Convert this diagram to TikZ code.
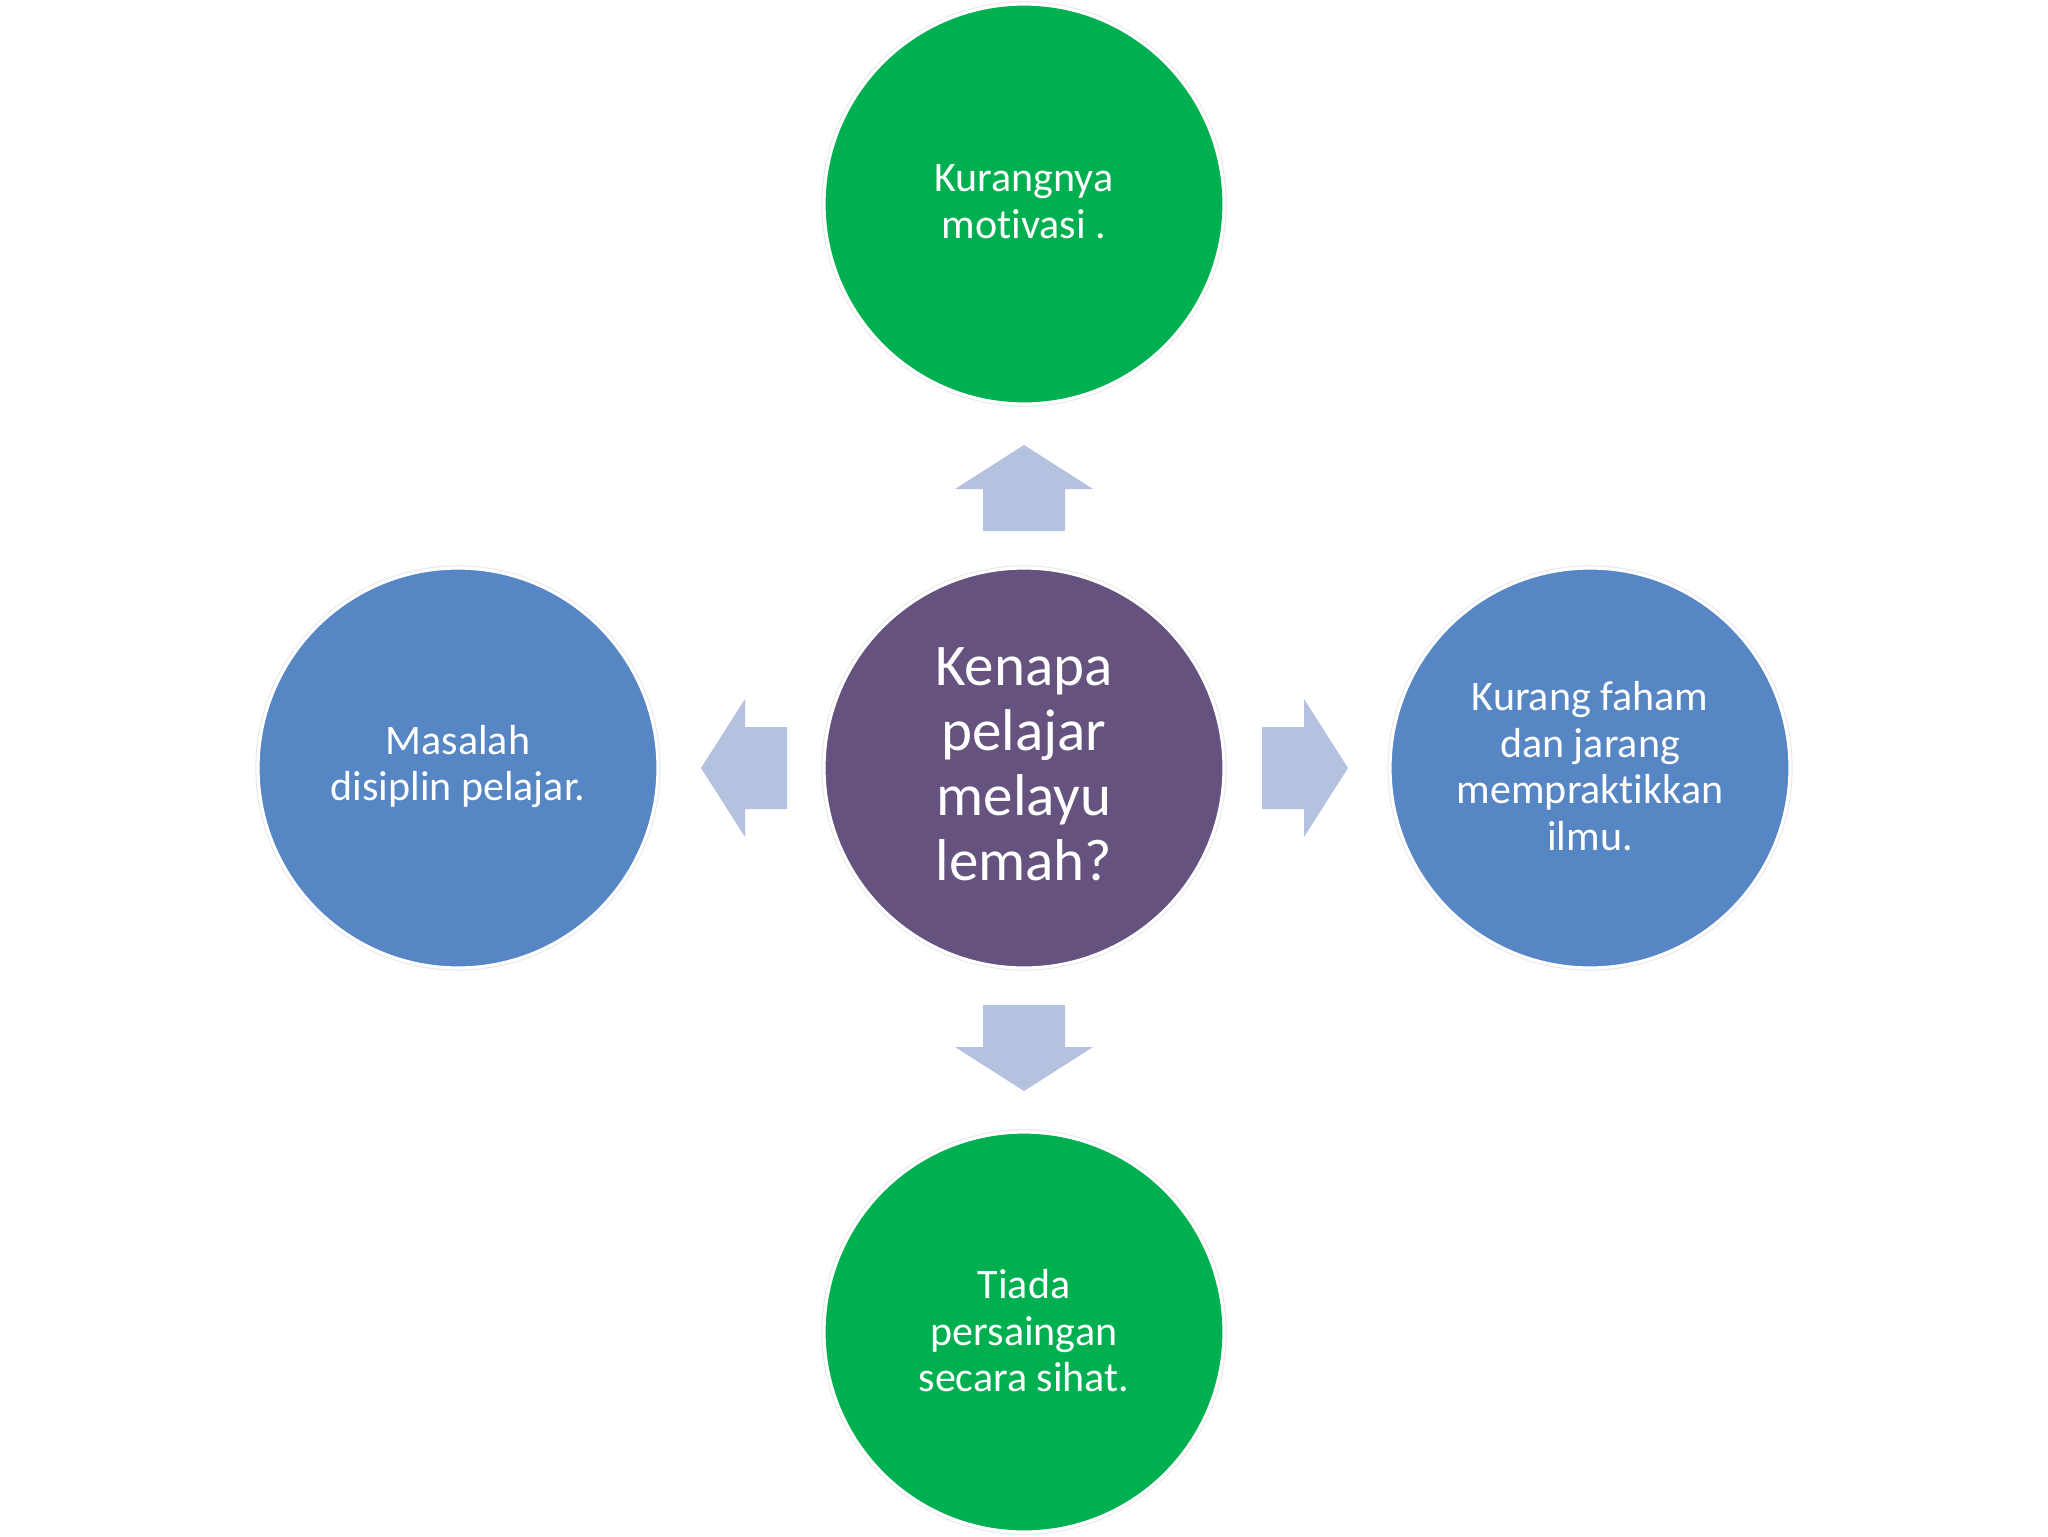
\documentclass[tikz,border=0pt]{standalone}
\usepackage{fontspec}
\setmainfont{Carlito}[Ligatures=NoCommon]
\definecolor{cgreen}{HTML}{00B050}
\definecolor{cblue}{HTML}{5686C3}
\definecolor{cpurple}{HTML}{65527F}
\definecolor{carrow}{HTML}{B5C2DF}
\tikzset{
  bubble/.style={circle, minimum size=200pt, inner sep=0pt, draw=white, line width=1.6pt,
    preaction={draw=black!9, line width=2.6pt}},
  caption/.style={text=white, align=center, inner sep=0pt,
    font=\fontsize{21pt}{23.2pt}\selectfont},
  hubcaption/.style={caption, font=\fontsize{29.5pt}{32.5pt}\selectfont},
  arrowfill/.style={fill=carrow}
}
\newcommand\blockarr[2]{%
  \fill[arrowfill, shift={(#1)}, rotate=#2]
    (-43,-41) -- (-1,-41) -- (-1,-69) -- (43,0) -- (-1,69) -- (-1,41) -- (-43,41) -- cycle;}
\begin{document}
\begin{tikzpicture}[x=0.5pt, y=-0.5pt]
\fill[white] (0,0) rectangle (2048,1536);
\useasboundingbox (0,0) rectangle (2048,1536);
\node[bubble, fill=cpurple] (c) at (1024,768) {};
\node[bubble, fill=cgreen] (t) at (1024,204) {};
\node[bubble, fill=cgreen] (b) at (1024,1332) {};
\node[bubble, fill=cblue] (l) at (458,768) {};
\node[bubble, fill=cblue] (r) at (1590,768) {};
\node[hubcaption] (ct) at ([yshift=1.8pt]c.center) {Kenapa\\pelajar\\melayu\\lemah?};
\node[caption] (tt) at ([yshift=1.2pt]t.center) {Kurangnya\\motivasi .};
\node[caption] (bt) at ([yshift=0.6pt]b.center) {Tiada\\persaingan\\secara sihat.};
\node[caption] (lt) at ([yshift=0.6pt]l.center) {Masalah\\disiplin pelajar.};
\node[caption] (rt) at ([yshift=1pt]r.center) {Kurang faham\\dan jarang\\mempraktikkan\\ilmu.};
\coordinate (au) at (1024,488);
\coordinate (ad) at (1024,1048);
\coordinate (al) at (744,768);
\coordinate (ar) at (1305,768);
\blockarr{au}{90}
\blockarr{ad}{270}
\blockarr{al}{180}
\blockarr{ar}{0}
\end{tikzpicture}
\end{document}
